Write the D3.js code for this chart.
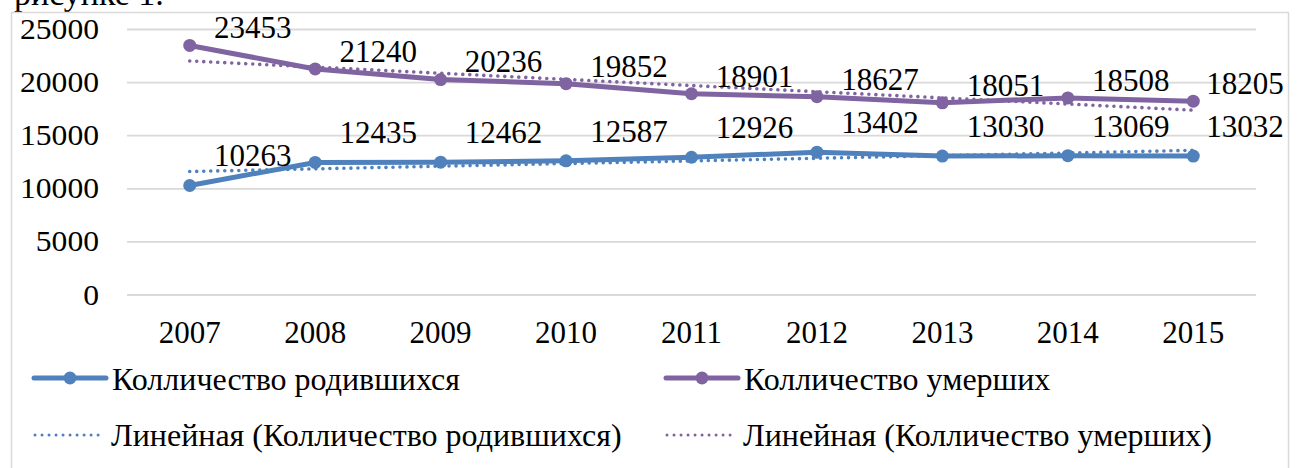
<!DOCTYPE html>
<html><head><meta charset="utf-8">
<script src="https://cdn.jsdelivr.net/npm/d3@7/dist/d3.min.js"></script>
<style>
html,body{margin:0;padding:0;background:#fff;}
svg{display:block;}
</style></head>
<body>
<svg id="c" width="1301" height="468"></svg>
<script>
const years = ["2007","2008","2009","2010","2011","2012","2013","2014","2015"];
const births = [10263,12435,12462,12587,12926,13402,13030,13069,13032];
const deaths = [23453,21240,20236,19852,18901,18627,18051,18508,18205];
const yTicks = [0,5000,10000,15000,20000,25000];
const seriesNames = ["Колличество родившихся","Колличество умерших"];
const trendNames = ["Линейная (Колличество родившихся)","Линейная (Колличество умерших)"];
const colors = ["#4F81BD","#8064A2"];
const FONT = "'Liberation Serif', Tinos, 'Times New Roman', 'DejaVu Serif', serif";

const svg = d3.select("#c").attr("font-family", FONT);

// caption fragment cut off at top
svg.append("text").attr("x",14).attr("y",5).attr("font-family",FONT).style("font-size","34px").text("рисунке 1.");

// chart border
svg.append("rect").attr("x",11.5).attr("y",12.5).attr("width",1277).attr("height",470)
  .attr("fill","none").attr("stroke","#d9d9d9").attr("stroke-width",1.5);

const x = d3.scaleBand().domain(years).range([127,1256]).padding(0);
const cx = d => x(d) + x.bandwidth()/2;
const y = d3.scaleLinear().domain([0,25000]).range([294.5,29]);

// grid / y axis
const ya = svg.append("g").attr("transform","translate(127,0)")
  .call(d3.axisLeft(y).tickValues(yTicks).tickSize(-(1256-127)).tickPadding(28).tickFormat(d3.format("d")))
  .attr("font-family",FONT);
ya.select(".domain").remove();
ya.selectAll(".tick line").attr("stroke","#d9d9d9").attr("stroke-width",1.8);
ya.selectAll(".tick text").style("font-size","29px").attr("fill","#000")
  .attr("textLength",d=>String(d).length*15.8).attr("lengthAdjust","spacingAndGlyphs").attr("dy","0.33em");

// x axis
const xa = svg.append("g").attr("transform","translate(0,294.5)")
  .call(d3.axisBottom(x).tickSize(0).tickPadding(26))
  .attr("font-family",FONT);
xa.select(".domain").remove();
xa.selectAll(".tick text").style("font-size","31px").attr("fill","#000");

// linear trend (least squares, as Excel's linear trendline)
function trend(vals){
  const n = vals.length, idx = d3.range(n);
  const mx = d3.mean(idx), my = d3.mean(vals);
  const b = d3.sum(idx, i => (i-mx)*(vals[i]-my)) / d3.sum(idx, i => (i-mx)*(i-mx));
  const a = my - b*mx;
  return [[0, a], [n-1, a + b*(n-1)]];
}

const line = d3.line().x((d,i)=>cx(years[i])).y(d=>y(d));
const data = [births, deaths];

data.forEach((vals,k)=>{
  const t = trend(vals);
  svg.append("path")
    .attr("d", d3.line().x(p=>cx(years[p[0]])).y(p=>y(p[1]))(t))
    .attr("fill","none").attr("stroke",colors[k]).attr("stroke-width",3.6)
    .attr("stroke-linecap","round").attr("stroke-dasharray","0.01 7");
});

data.forEach((vals,k)=>{
  svg.append("path").datum(vals).attr("d",line)
    .attr("fill","none").attr("stroke",colors[k]).attr("stroke-width",5).attr("stroke-linejoin","round");
  svg.append("g").selectAll("circle").data(vals).join("circle")
    .attr("cx",(d,i)=>cx(years[i])).attr("cy",d=>y(d)).attr("r",6.5).attr("fill",colors[k]);
});

// data labels (kept inside the chart frame)
const labelDy = [-30, -18];
data.forEach((vals,k)=>{
  svg.append("g").selectAll("text").data(vals).join("text")
    .attr("x",(d,i)=>Math.min(cx(years[i])+63, 1284-39)).attr("y",d=>y(d)+labelDy[k])
    .attr("text-anchor","middle").attr("dy","0.35em").attr("font-family",FONT)
    .style("font-size","31px").text(d=>d);
});

// legend
const legX = [34, 666];
seriesNames.forEach((name,k)=>{
  const g = svg.append("g");
  g.append("line").attr("x1",legX[k]).attr("x2",legX[k]+72).attr("y1",378).attr("y2",378)
    .attr("stroke",colors[k]).attr("stroke-width",5).attr("stroke-linecap","round");
  g.append("circle").attr("cx",legX[k]+36).attr("cy",378).attr("r",6.5).attr("fill",colors[k]);
  g.append("text").attr("x",legX[k]+78).attr("y",390).attr("font-family",FONT).style("font-size","32px").text(name);
});
trendNames.forEach((name,k)=>{
  const g = svg.append("g");
  g.append("line").attr("x1",legX[k]+1).attr("x2",legX[k]+68).attr("y1",435).attr("y2",435)
    .attr("stroke",colors[k]).attr("stroke-width",3).attr("stroke-linecap","round").attr("stroke-dasharray","0.01 7");
  g.append("text").attr("x",legX[k]+77).attr("y",446).attr("font-family",FONT).style("font-size","32px").text(name);
});
</script>
</body></html>
